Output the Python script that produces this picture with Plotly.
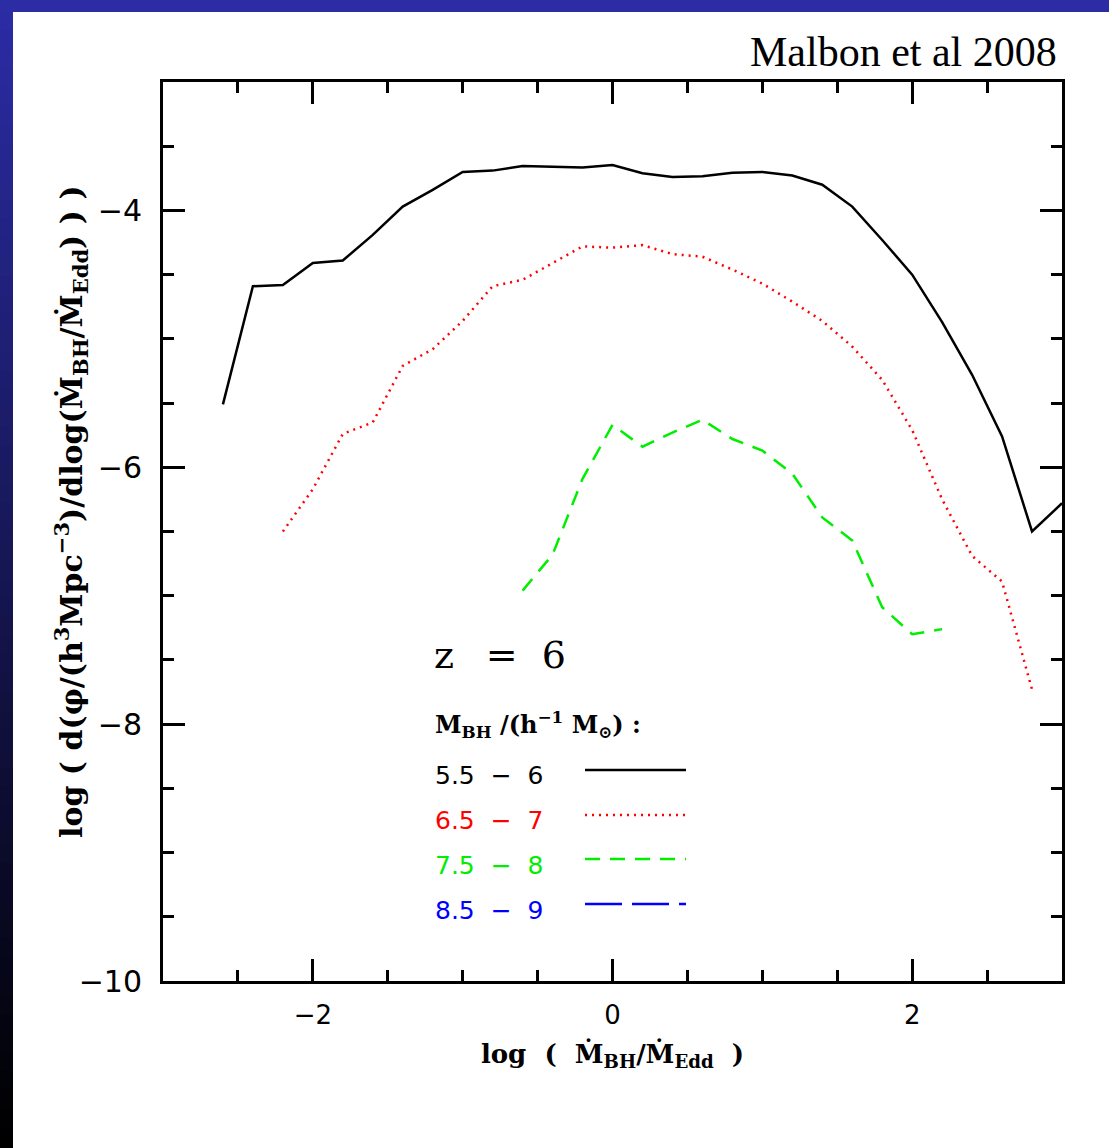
import plotly.graph_objects as go

# ---------------- data ----------------
x_black = [-2.6, -2.4, -2.2, -2.0, -1.8, -1.6, -1.4, -1.2, -1.0, -0.8, -0.6, -0.4, -0.2,
           0.0, 0.2, 0.4, 0.6, 0.8, 1.0, 1.2, 1.4, 1.6, 1.8, 2.0, 2.2, 2.4, 2.6, 2.8, 3.0]
y_black = [-5.51, -4.59, -4.58, -4.41, -4.39, -4.19, -3.97, -3.84, -3.70, -3.69, -3.655, -3.66, -3.665,
           -3.646, -3.71, -3.74, -3.733, -3.707, -3.70, -3.728, -3.80, -3.97, -4.23, -4.50, -4.87, -5.28, -5.76, -6.50, -6.28]

x_red = [-2.2, -2.0, -1.8, -1.6, -1.4, -1.2, -1.0, -0.8, -0.6, -0.4, -0.2,
         0.0, 0.2, 0.4, 0.6, 0.8, 1.0, 1.2, 1.4, 1.6, 1.8, 2.0, 2.2, 2.4, 2.6, 2.8]
y_red = [-6.50, -6.17, -5.74, -5.65, -5.21, -5.08, -4.86, -4.59, -4.54, -4.41, -4.28,
         -4.29, -4.27, -4.34, -4.36, -4.46, -4.57, -4.71, -4.86, -5.06, -5.32, -5.71, -6.25, -6.69, -6.89, -7.73]

x_green = [-0.6, -0.4, -0.2, 0.0, 0.2, 0.4, 0.6, 0.8, 1.0, 1.2, 1.4, 1.6, 1.8, 2.0, 2.2]
y_green = [-6.96, -6.68, -6.09, -5.67, -5.84, -5.73, -5.63, -5.78, -5.87, -6.05, -6.39, -6.57, -7.09, -7.30, -7.26]

x_blue = []
y_blue = []

series_labels = ["5.5\u00a0\u00a0\u2212\u00a0\u00a06", "6.5\u00a0\u00a0\u2212\u00a0\u00a07",
                 "7.5\u00a0\u00a0\u2212\u00a0\u00a08", "8.5\u00a0\u00a0\u2212\u00a0\u00a09"]
series_colors = ["#000000", "#ff0000", "#00ee00", "#0000ff"]
series_dash = ["solid", "2px,5px", "15px,10px", "37px,10px"]

x_range = [-3, 3]
y_range = [-10, -3]

# ---------------- layout helpers ----------------
W, H = 1109, 1148
L, R, T, B = 163, 47, 82, 167
PW, PH = W - L - R, H - T - B


def px(xp):
    return (xp - L) / PW


def py(yp):
    return (H - B - yp) / PH


fig = go.Figure()

for xs, ys, col, dash in zip([x_black, x_red, x_green, x_blue],
                             [y_black, y_red, y_green, y_blue],
                             series_colors, series_dash):
    fig.add_trace(go.Scatter(x=xs, y=ys, mode="lines",
                             line=dict(color=col, width=2.5, dash=dash),
                             showlegend=False, hoverinfo="skip"))

shapes = []
# blue gradient frame (left strip + top strip)
top_col = (44, 44, 165)
n = 60
for i in range(n):
    y0p = 12 + (H - 12) * i / n - 1
    y1p = 12 + (H - 12) * (i + 1) / n + 1
    f = 1 - (i + 0.5) / n
    c = "rgb(%d,%d,%d)" % (int(top_col[0] * f), int(top_col[1] * f), int(top_col[2] * f))
    shapes.append(dict(type="rect", xref="paper", yref="paper", x0=px(-2), x1=px(13),
                       y0=py(y1p), y1=py(y0p), fillcolor=c, line=dict(width=0), layer="below"))
shapes.append(dict(type="rect", xref="paper", yref="paper", x0=px(-2), x1=px(W + 2), y0=py(12), y1=py(-2),
                   fillcolor="rgb(44,44,165)", line=dict(width=0), layer="below"))

# legend sample lines
row_y = [770, 815, 859, 904]
for yy, col, dash in zip(row_y, series_colors, series_dash):
    shapes.append(dict(type="line", xref="paper", yref="paper", x0=px(585), x1=px(686),
                       y0=py(yy), y1=py(yy), line=dict(color=col, width=2.5, dash=dash)))

annotations = []
annotations.append(dict(text="Malbon et al 2008", xref="paper", yref="paper", x=px(1059), y=py(52),
                        xanchor="right", yanchor="middle", showarrow=False,
                        font=dict(family="Liberation Serif", size=42, color="black")))
annotations.append(dict(text="z\u00a0\u00a0\u2009=\u00a0\u00a06", xref="paper", yref="paper", x=px(432), y=py(655),
                        xanchor="left", yanchor="middle", showarrow=False,
                        font=dict(family="DejaVu Serif", size=38, color="black")))
annotations.append(dict(text="<b>M<sub>BH</sub>\u00a0/(h<sup>\u22121</sup>\u00a0M<sub>\u2299</sub>)\u00a0:</b>",
                        xref="paper", yref="paper", x=px(433), y=py(724),
                        xanchor="left", yanchor="middle", showarrow=False,
                        font=dict(family="DejaVu Serif", size=24, color="black")))
label_y = [775, 820, 865, 910]
for yy, lab, col in zip(label_y, series_labels, series_colors):
    annotations.append(dict(text=lab, xref="paper", yref="paper", x=px(433), y=py(yy),
                            xanchor="left", yanchor="middle", showarrow=False,
                            font=dict(family="DejaVu Sans", size=25, color=col)))

# y-axis title placed explicitly to match the reference position
annotations.append(dict(
    text="<b>log\u00a0(\u00a0d(\u03c6/(h<sup>3</sup>Mpc<sup>\u22123</sup>)/dlog(M\u0307<sub>BH</sub>/M\u0307<sub>Edd</sub>)\u00a0)\u00a0)</b>",
    xref="paper", yref="paper", x=px(71), y=py(512), textangle=-90,
    xanchor="center", yanchor="middle", showarrow=False,
    font=dict(family="DejaVu Serif", size=30, color="black")))

fig.update_layout(
    width=W, height=H,
    margin=dict(l=L, r=R, t=T, b=B, pad=0),
    paper_bgcolor="white", plot_bgcolor="white",
    shapes=shapes, annotations=annotations,
    xaxis=dict(range=x_range, showgrid=False, zeroline=False,
               showline=True, linecolor="black", linewidth=3, mirror="allticks",
               ticks="inside", ticklen=22, tickwidth=2.5, tickcolor="black",
               tickmode="array", tickvals=[-2, 0, 2],
               minor=dict(dtick=0.5, tick0=-3, ticks="inside", ticklen=11, tickwidth=2.5, tickcolor="black", showgrid=False),
               tickfont=dict(family="DejaVu Sans", size=26, color="black"),
               ticklabelstandoff=9,
               title=dict(text="<b>log\u00a0\u00a0(\u00a0\u00a0M\u0307<sub>BH</sub>/M\u0307<sub>Edd</sub>\u00a0\u00a0)</b>",
                          font=dict(family="DejaVu Serif", size=26, color="black"), standoff=16)),
    yaxis=dict(range=y_range, showgrid=False, zeroline=False,
               showline=True, linecolor="black", linewidth=3, mirror="allticks",
               ticks="inside", ticklen=22, tickwidth=2.5, tickcolor="black",
               tick0=-10, dtick=2,
               minor=dict(dtick=0.5, tick0=-10, ticks="inside", ticklen=11, tickwidth=2.5, tickcolor="black", showgrid=False),
               tickfont=dict(family="DejaVu Sans", size=30, color="black"),
               ticklabelstandoff=12),
)

fig.write_html("out.html")
